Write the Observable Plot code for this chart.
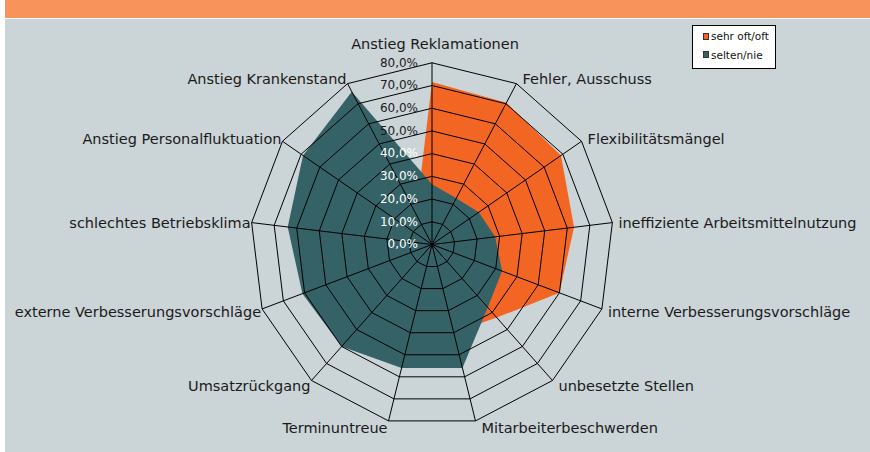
<!DOCTYPE html>
<html>
<head>
<meta charset="utf-8">
<script src="https://cdn.jsdelivr.net/npm/d3@7"></script>
<script src="https://cdn.jsdelivr.net/npm/@observablehq/plot@0.6"></script>
<style>
  body { margin: 0; background: #ffffff; }
  #wrap { position: relative; width: 870px; height: 452px; overflow: hidden; font-family: "DejaVu Sans", sans-serif; }
  #band { position: absolute; left: 5px; top: 0; width: 865px; height: 18px; background: #F7935B; }
  #panel { position: absolute; left: 5px; top: 19px; width: 865px; height: 433px; background: #CBD4D7; }
  #chart { position: absolute; left: 0; top: 0; }
  #legend { position: absolute; left: 692px; top: 25px; width: 82px; height: 42px; background: #ffffff; border: 1px solid #000; font-size: 10.5px; color: #111; }
  .item { position: absolute; left: 10px; display: flex; align-items: center; white-space: nowrap; }
  .sw { width: 6px; height: 7px; border: 1px solid #333; margin-right: 2px; box-sizing: border-box; }
</style>
</head>
<body>
<div id="wrap">
  <div id="band"></div>
  <div id="panel"></div>
  <div id="chart"></div>
  <div id="legend"></div>
</div>
<script>
// ---- data ----
const categories = [
  "Anstieg Reklamationen",
  "Fehler, Ausschuss",
  "Flexibilitätsmängel",
  "ineffiziente Arbeitsmittelnutzung",
  "interne Verbesserungsvorschläge",
  "unbesetzte Stellen",
  "Mitarbeiterbeschwerden",
  "Terminuntreue",
  "Umsatzrückgang",
  "externe Verbesserungsvorschläge",
  "schlechtes Betriebsklima",
  "Anstieg Personalfluktuation",
  "Anstieg Krankenstand"
];
const seriesNames = ["sehr oft/oft", "selten/nie"];
const sehrOftOft = [71.5, 70.5, 69, 63, 60, 43, 40, 36, 32, 30, 28, 22, 15];
const seltenNie  = [26.5, 23, 25, 28, 33, 37, 56, 56, 60, 61, 64, 69, 76];
const tickValues = [0, 10, 20, 30, 40, 50, 60, 70, 80];
const tickLabels = ["0,0%", "10,0%", "20,0%", "30,0%", "40,0%", "50,0%", "60,0%", "70,0%", "80,0%"];
const seriesColors = ["#F26522", "#356266"];

// ---- geometry helpers ----
const W = 870, H = 452;
const cx = 431.5, cy = 244;          // centre in pixels
const maxV = 80;
const k = 181.7 / maxV;              // pixels per percent
const n = categories.length;
const ang = i => i * 2 * Math.PI / n;
const sx = (v, i) => v * Math.sin(ang(i));
const sy = (v, i) => v * Math.cos(ang(i));

function polygon(vals) {
  const p = vals.map((v, i) => ({i, v}));
  p.push(p[0]);
  return p;
}
const rings = tickValues.filter(t => t > 0).flatMap(t =>
  polygon(categories.map(() => t)).map(d => ({...d, ring: t}))
);
const labelData = categories.map((c, i) => ({c, i}));
const side = d => {
  const s = Math.sin(ang(d.i));
  return Math.abs(s) < 0.1 ? "top" : (s > 0 ? "right" : "left");
};
const lx = d => {
  const s = side(d);
  const base = sx(maxV, d.i);
  return base + (s === "right" ? 6 : s === "left" ? -1 : 3) / k;
};
const ly = d => {
  const s = side(d);
  const base = sy(maxV, d.i);
  if (s === "top") return base + 18 / k;
  const dyPx = -Math.cos(ang(d.i)) * 6 + 1.5;
  return base - dyPx / k;
};

const plot = Plot.plot({
  width: W,
  height: H,
  margin: 0,
  x: {domain: [-cx / k, (W - cx) / k], axis: null},
  y: {domain: [-(H - cy) / k, cy / k], axis: null},
  style: {background: "transparent", fontFamily: "DejaVu Sans, sans-serif", overflow: "visible"},
  marks: [
    Plot.line(polygon(sehrOftOft), {x: d => sx(d.v, d.i), y: d => sy(d.v, d.i), fill: seriesColors[0], stroke: "none"}),
    Plot.line(polygon(seltenNie), {x: d => sx(d.v, d.i), y: d => sy(d.v, d.i), fill: seriesColors[1], stroke: "none"}),
    Plot.line(rings, {x: d => sx(d.ring, d.i), y: d => sy(d.ring, d.i), z: "ring", stroke: "#000", strokeWidth: 1}),
    Plot.link(labelData, {x1: () => 0, y1: () => 0, x2: d => sx(maxV, d.i), y2: d => sy(maxV, d.i), stroke: "#000", strokeWidth: 1}),
    Plot.text(tickValues.map((t, j) => ({t, j})), {
      filter: d => d.t <= 40,
      x: () => 0, y: d => d.t, text: d => tickLabels[d.j],
      textAnchor: "end", dx: -14, fontSize: 12, fill: "#ffffff"
    }),
    Plot.text(tickValues.map((t, j) => ({t, j})), {
      filter: d => d.t > 40,
      x: () => 0, y: d => d.t, text: d => tickLabels[d.j],
      textAnchor: "end", dx: -14, fontSize: 12, fill: "#1a1a1a"
    }),
    Plot.text(labelData, {filter: d => side(d) === "right", x: lx, y: ly, text: "c", textAnchor: "start", fontSize: 14.5, fill: "#1a1a1a"}),
    Plot.text(labelData, {filter: d => side(d) === "left", x: lx, y: ly, text: "c", textAnchor: "end", fontSize: 14.5, fill: "#1a1a1a"}),
    Plot.text(labelData, {filter: d => side(d) === "top", x: lx, y: ly, text: "c", textAnchor: "middle", fontSize: 14.5, fill: "#1a1a1a"})
  ]
});
document.getElementById("chart").appendChild(plot);

// ---- legend ----
const legend = document.getElementById("legend");
seriesNames.forEach((name, j) => {
  const it = document.createElement("div");
  it.className = "item";
  it.style.top = (4 + j * 18.5) + "px";
  const sw = document.createElement("span");
  sw.className = "sw";
  sw.style.background = seriesColors[j];
  const tx = document.createElement("span");
  tx.textContent = name;
  it.appendChild(sw);
  it.appendChild(tx);
  legend.appendChild(it);
});
</script>
</body>
</html>
